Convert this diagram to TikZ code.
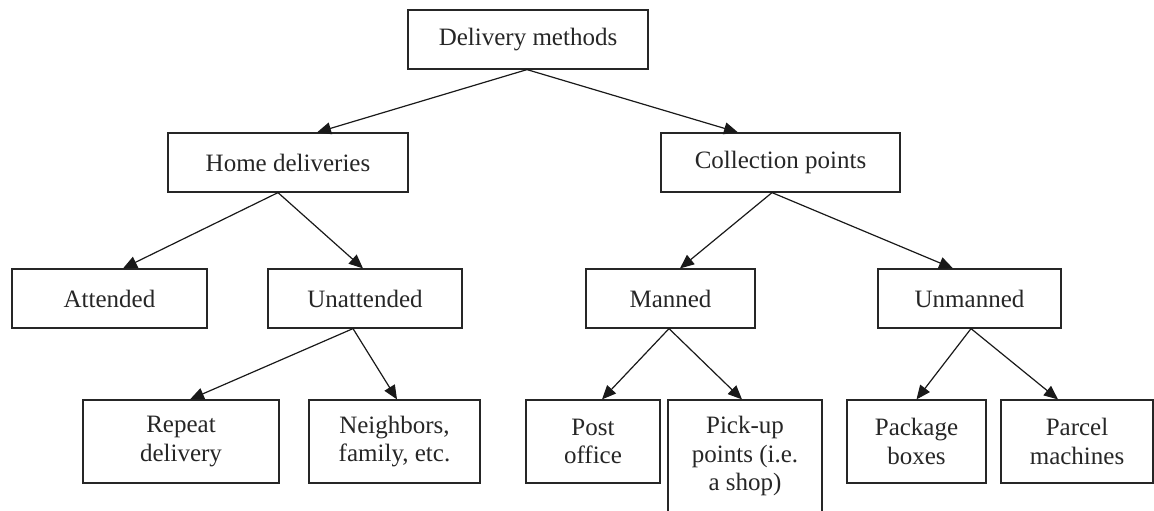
\documentclass[tikz,border=0pt]{standalone}
\usepackage{tikz}
\usepackage{xcolor}
\usepackage{fontspec}
\setmainfont{Liberation Serif}
\usetikzlibrary{arrows.meta}

\begin{document}
\begin{tikzpicture}[x=0.5pt,y=-0.5pt,
            blk/.style={draw=black!85, line width=0.6pt, align=center, inner sep=0pt,
                font=\fontsize{12.5}{14.3}\selectfont, text=black!85},
            arw/.style={-{Triangle[length=7pt,width=6pt]}, line width=0.6pt, draw=black!90}]
            \useasboundingbox (0,0) rectangle (1154,510);
            % first and second rows
            \node[blk, minimum width=120pt, minimum height=29.5pt] (dm) at (528,39.5) {Delivery methods};
            \node[blk, minimum width=120pt, minimum height=29.5pt] (home) at (288,162.5) {Home deliveries};
            \node[blk, minimum width=119.5pt, minimum height=29.5pt] (coll) at (780.5,162.5) {Collection points};
            % third row
            \node[blk, minimum width=97.5pt, minimum height=29.5pt] (att) at (109.5,298.5) {Attended};
            \node[blk, minimum width=97pt, minimum height=29.5pt] (unatt) at (365,298.5) {Unattended};
            \node[blk, minimum width=84.5pt, minimum height=29.5pt] (man) at (670.5,298.5) {Manned};
            \node[blk, minimum width=91.5pt, minimum height=29.5pt] (unman) at (969.5,298.5) {Unmanned};
            % last row
            \node[blk, minimum width=98pt, minimum height=41.5pt] (rep) at (181,441.5) {Repeat\\delivery};
            \node[blk, minimum width=85.5pt, minimum height=41.5pt] (neigh) at (394.5,441.5) {Neighbors,\\family, etc.};
            \node[blk, minimum width=67pt, minimum height=41.5pt] (post) at (593,441.5) {Post\\office};
            \node[blk, minimum width=77pt, minimum height=56pt] (pick) at (745,456) {Pick-up\\points (i.e.\\a shop)};
            \node[blk, minimum width=69.5pt, minimum height=41.5pt] (pack) at (916.5,441.5) {Package\\boxes};
            \node[blk, minimum width=76pt, minimum height=41.5pt] (parc) at (1077,441.5) {Parcel\\machines};

            \draw[arw] ([xshift=-0.5pt]dm.south) -- ([xshift=14.5pt]home.north);
            \draw[arw] ([xshift=-0.5pt]dm.south) -- ([xshift=-21.25pt]coll.north);
            \draw[arw] ([xshift=-5pt]home.south) -- ([xshift=6.75pt]att.north);
            \draw[arw] ([xshift=-5pt]home.south) -- ([xshift=-1pt]unatt.north);
            \draw[arw] ([xshift=-4.25pt]coll.south) -- ([xshift=4.75pt]man.north);
            \draw[arw] ([xshift=-4.25pt]coll.south) -- ([xshift=-8.25pt]unman.north);
            \draw[arw] ([xshift=-6pt]unatt.south) -- ([xshift=4.5pt]rep.north);
            \draw[arw] ([xshift=-6pt]unatt.south) -- ([xshift=1.25pt]neigh.north);
            \draw[arw] ([xshift=-0.75pt]man.south) -- ([xshift=4.5pt]post.north);
            \draw[arw] ([xshift=-0.75pt]man.south) -- ([xshift=-1.5pt]pick.north);
            \draw[arw] ([xshift=0.75pt]unman.south) -- (pack.north);
            \draw[arw] ([xshift=0.75pt]unman.south) -- ([xshift=-9.5pt]parc.north);
        \end{tikzpicture}
\end{document}
